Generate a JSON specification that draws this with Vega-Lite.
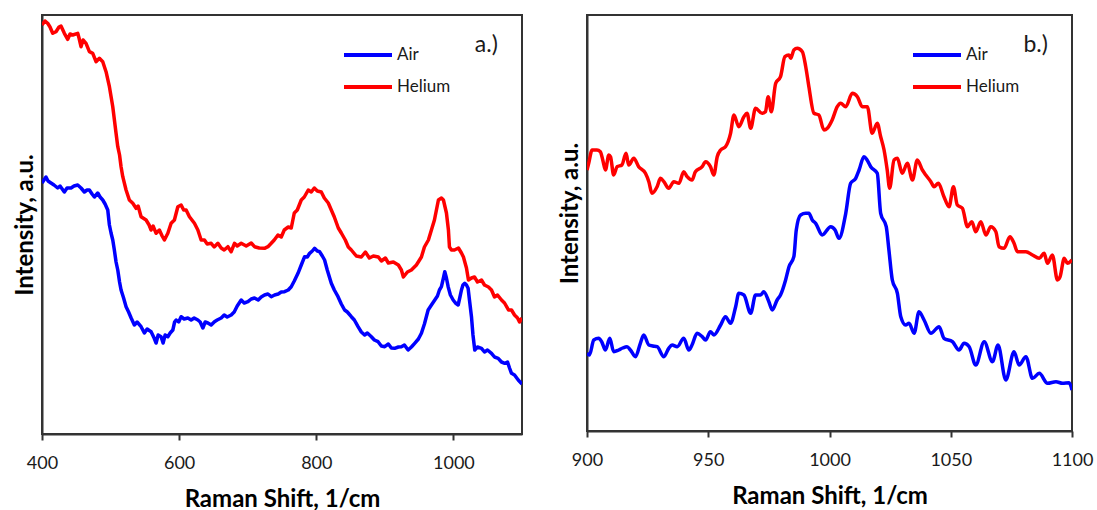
{
  "$schema": "https://vega.github.io/schema/vega-lite/v6.json",
  "background": "white",
  "padding": {"left": 12, "top": 14, "right": 5, "bottom": 0},
  "spacing": 34,
  "config": {
    "font": "Lato",
    "view": {"stroke": "#333333", "strokeWidth": 2},
    "axis": {
      "grid": false,
      "domainColor": "#333333",
      "domainWidth": 2,
      "tickColor": "#333333",
      "tickWidth": 2,
      "tickSize": 6,
      "labelFont": "Lato",
      "labelFontSize": 18,
      "labelColor": "#1a1a1a",
      "labelPadding": 14,
      "labelFlush": false,
      "format": "d",
      "titleFont": "Lato",
      "titleFontSize": 24,
      "titleFontWeight": "bold",
      "titleColor": "#000000"
    },
    "axisY": {"labels": false, "ticks": false, "titlePadding": 5},
    "axisX": {"titlePadding": 15},
    "legend": {
      "orient": "none",
      "title": null,
      "padding": 0,
      "symbolType": "stroke",
      "symbolStrokeWidth": 4,
      "symbolSize": 2304,
      "labelFont": "Lato",
      "labelFontSize": 17,
      "labelColor": "#1a1a1a",
      "labelOffset": 3,
      "rowPadding": 0,
      "clipHeight": 32
    }
  },
  "resolve": {"scale": {"color": "independent"}, "legend": {"color": "independent"}},
  "datasets": {
    "fullRange": [
      {"gas": "Air", "shift": 400, "intensity": 251},
      {"gas": "Air", "shift": 405.8, "intensity": 257},
      {"gas": "Air", "shift": 408.8, "intensity": 253},
      {"gas": "Air", "shift": 413.1, "intensity": 251},
      {"gas": "Air", "shift": 417.5, "intensity": 249},
      {"gas": "Air", "shift": 422.9, "intensity": 246},
      {"gas": "Air", "shift": 426.3, "intensity": 248},
      {"gas": "Air", "shift": 432.6, "intensity": 242},
      {"gas": "Air", "shift": 436.5, "intensity": 246},
      {"gas": "Air", "shift": 442.3, "intensity": 246},
      {"gas": "Air", "shift": 446.7, "intensity": 248},
      {"gas": "Air", "shift": 452.1, "intensity": 249},
      {"gas": "Air", "shift": 456.9, "intensity": 246},
      {"gas": "Air", "shift": 461.8, "intensity": 242},
      {"gas": "Air", "shift": 465.7, "intensity": 244},
      {"gas": "Air", "shift": 469.1, "intensity": 244},
      {"gas": "Air", "shift": 473, "intensity": 240},
      {"gas": "Air", "shift": 476.4, "intensity": 237},
      {"gas": "Air", "shift": 481.3, "intensity": 241},
      {"gas": "Air", "shift": 484.7, "intensity": 237},
      {"gas": "Air", "shift": 488.6, "intensity": 234},
      {"gas": "Air", "shift": 492, "intensity": 230},
      {"gas": "Air", "shift": 495.9, "intensity": 224},
      {"gas": "Air", "shift": 498.3, "intensity": 209},
      {"gas": "Air", "shift": 500.7, "intensity": 201},
      {"gas": "Air", "shift": 503.2, "intensity": 194},
      {"gas": "Air", "shift": 505.5, "intensity": 184},
      {"gas": "Air", "shift": 508, "intensity": 172},
      {"gas": "Air", "shift": 510.5, "intensity": 164},
      {"gas": "Air", "shift": 513.1, "intensity": 152},
      {"gas": "Air", "shift": 515.3, "intensity": 144},
      {"gas": "Air", "shift": 519, "intensity": 136},
      {"gas": "Air", "shift": 522.6, "intensity": 127.3},
      {"gas": "Air", "shift": 526.3, "intensity": 122},
      {"gas": "Air", "shift": 530, "intensity": 116},
      {"gas": "Air", "shift": 534.7, "intensity": 109},
      {"gas": "Air", "shift": 538.7, "intensity": 112},
      {"gas": "Air", "shift": 544.5, "intensity": 107.3},
      {"gas": "Air", "shift": 549.3, "intensity": 101},
      {"gas": "Air", "shift": 553.3, "intensity": 105},
      {"gas": "Air", "shift": 559.1, "intensity": 102.3},
      {"gas": "Air", "shift": 563.5, "intensity": 96},
      {"gas": "Air", "shift": 566.4, "intensity": 91},
      {"gas": "Air", "shift": 569.4, "intensity": 99},
      {"gas": "Air", "shift": 573.7, "intensity": 97.3},
      {"gas": "Air", "shift": 576.6, "intensity": 91},
      {"gas": "Air", "shift": 579.6, "intensity": 99},
      {"gas": "Air", "shift": 583.5, "intensity": 97.3},
      {"gas": "Air", "shift": 586.9, "intensity": 101},
      {"gas": "Air", "shift": 590.8, "intensity": 104},
      {"gas": "Air", "shift": 593.4, "intensity": 112},
      {"gas": "Air", "shift": 595.6, "intensity": 114},
      {"gas": "Air", "shift": 599.3, "intensity": 112},
      {"gas": "Air", "shift": 602.9, "intensity": 117.3},
      {"gas": "Air", "shift": 607.3, "intensity": 115},
      {"gas": "Air", "shift": 612.7, "intensity": 116},
      {"gas": "Air", "shift": 617.5, "intensity": 114},
      {"gas": "Air", "shift": 621.9, "intensity": 116},
      {"gas": "Air", "shift": 627.3, "intensity": 114},
      {"gas": "Air", "shift": 630.7, "intensity": 112},
      {"gas": "Air", "shift": 634.6, "intensity": 106},
      {"gas": "Air", "shift": 638, "intensity": 112},
      {"gas": "Air", "shift": 641.9, "intensity": 111},
      {"gas": "Air", "shift": 646.7, "intensity": 109},
      {"gas": "Air", "shift": 651.5, "intensity": 112.3},
      {"gas": "Air", "shift": 655.5, "intensity": 114},
      {"gas": "Air", "shift": 661.3, "intensity": 116},
      {"gas": "Air", "shift": 665.7, "intensity": 119},
      {"gas": "Air", "shift": 670.1, "intensity": 117},
      {"gas": "Air", "shift": 675.9, "intensity": 119},
      {"gas": "Air", "shift": 680.3, "intensity": 122},
      {"gas": "Air", "shift": 684.7, "intensity": 128},
      {"gas": "Air", "shift": 690.5, "intensity": 134},
      {"gas": "Air", "shift": 694.9, "intensity": 131},
      {"gas": "Air", "shift": 700.3, "intensity": 132.3},
      {"gas": "Air", "shift": 705.1, "intensity": 135},
      {"gas": "Air", "shift": 709.9, "intensity": 136},
      {"gas": "Air", "shift": 715.3, "intensity": 134},
      {"gas": "Air", "shift": 719.7, "intensity": 137},
      {"gas": "Air", "shift": 724.5, "intensity": 139},
      {"gas": "Air", "shift": 729.5, "intensity": 140},
      {"gas": "Air", "shift": 734.3, "intensity": 137.3},
      {"gas": "Air", "shift": 739.2, "intensity": 139},
      {"gas": "Air", "shift": 744.5, "intensity": 140},
      {"gas": "Air", "shift": 748.9, "intensity": 142},
      {"gas": "Air", "shift": 753.7, "intensity": 142.3},
      {"gas": "Air", "shift": 759.1, "intensity": 144},
      {"gas": "Air", "shift": 763.5, "intensity": 147.3},
      {"gas": "Air", "shift": 767.9, "intensity": 153},
      {"gas": "Air", "shift": 773.3, "intensity": 160.7},
      {"gas": "Air", "shift": 778.1, "intensity": 169},
      {"gas": "Air", "shift": 783, "intensity": 177.3},
      {"gas": "Air", "shift": 786.9, "intensity": 177},
      {"gas": "Air", "shift": 790.3, "intensity": 180.7},
      {"gas": "Air", "shift": 794.2, "intensity": 183},
      {"gas": "Air", "shift": 797.5, "intensity": 185.7},
      {"gas": "Air", "shift": 801.5, "intensity": 183},
      {"gas": "Air", "shift": 804.8, "intensity": 182.3},
      {"gas": "Air", "shift": 808.8, "intensity": 178},
      {"gas": "Air", "shift": 812.1, "intensity": 174},
      {"gas": "Air", "shift": 816, "intensity": 164},
      {"gas": "Air", "shift": 821.9, "intensity": 150.7},
      {"gas": "Air", "shift": 826.3, "intensity": 144},
      {"gas": "Air", "shift": 831.7, "intensity": 137.3},
      {"gas": "Air", "shift": 836.5, "intensity": 130},
      {"gas": "Air", "shift": 841.3, "intensity": 124},
      {"gas": "Air", "shift": 845.3, "intensity": 122},
      {"gas": "Air", "shift": 851.1, "intensity": 117.3},
      {"gas": "Air", "shift": 855.5, "intensity": 114},
      {"gas": "Air", "shift": 860.9, "intensity": 107.3},
      {"gas": "Air", "shift": 865.7, "intensity": 102},
      {"gas": "Air", "shift": 870.5, "intensity": 99},
      {"gas": "Air", "shift": 874.5, "intensity": 101},
      {"gas": "Air", "shift": 880.3, "intensity": 97.3},
      {"gas": "Air", "shift": 884.7, "intensity": 94},
      {"gas": "Air", "shift": 890.1, "intensity": 92.3},
      {"gas": "Air", "shift": 894.9, "intensity": 88},
      {"gas": "Air", "shift": 899.8, "intensity": 87.3},
      {"gas": "Air", "shift": 905.1, "intensity": 90},
      {"gas": "Air", "shift": 909.5, "intensity": 86},
      {"gas": "Air", "shift": 914.3, "intensity": 85.7},
      {"gas": "Air", "shift": 919.7, "intensity": 87},
      {"gas": "Air", "shift": 924.1, "intensity": 87.3},
      {"gas": "Air", "shift": 928.5, "intensity": 89},
      {"gas": "Air", "shift": 933.9, "intensity": 84},
      {"gas": "Air", "shift": 938.7, "intensity": 87},
      {"gas": "Air", "shift": 943.5, "intensity": 90.7},
      {"gas": "Air", "shift": 948.9, "intensity": 95},
      {"gas": "Air", "shift": 953.3, "intensity": 100.7},
      {"gas": "Air", "shift": 957.7, "intensity": 110},
      {"gas": "Air", "shift": 963.1, "intensity": 124},
      {"gas": "Air", "shift": 967.9, "intensity": 129},
      {"gas": "Air", "shift": 972.8, "intensity": 134},
      {"gas": "Air", "shift": 976.7, "intensity": 138},
      {"gas": "Air", "shift": 979.6, "intensity": 144},
      {"gas": "Air", "shift": 982.5, "intensity": 147.3},
      {"gas": "Air", "shift": 985.4, "intensity": 156},
      {"gas": "Air", "shift": 987.4, "intensity": 162.3},
      {"gas": "Air", "shift": 989.8, "intensity": 156},
      {"gas": "Air", "shift": 992.3, "intensity": 147.3},
      {"gas": "Air", "shift": 995.6, "intensity": 139},
      {"gas": "Air", "shift": 999.6, "intensity": 134},
      {"gas": "Air", "shift": 1003, "intensity": 131},
      {"gas": "Air", "shift": 1006.9, "intensity": 129},
      {"gas": "Air", "shift": 1009.5, "intensity": 137},
      {"gas": "Air", "shift": 1011.7, "intensity": 144},
      {"gas": "Air", "shift": 1013.9, "intensity": 149},
      {"gas": "Air", "shift": 1016.5, "intensity": 150.7},
      {"gas": "Air", "shift": 1019, "intensity": 149},
      {"gas": "Air", "shift": 1021.4, "intensity": 145.7},
      {"gas": "Air", "shift": 1023.4, "intensity": 134},
      {"gas": "Air", "shift": 1026.3, "intensity": 117.3},
      {"gas": "Air", "shift": 1028.5, "intensity": 99},
      {"gas": "Air", "shift": 1031.1, "intensity": 84},
      {"gas": "Air", "shift": 1035.1, "intensity": 87},
      {"gas": "Air", "shift": 1040.9, "intensity": 85.7},
      {"gas": "Air", "shift": 1045.3, "intensity": 82},
      {"gas": "Air", "shift": 1049.7, "intensity": 84},
      {"gas": "Air", "shift": 1055.5, "intensity": 80.7},
      {"gas": "Air", "shift": 1059.9, "intensity": 77},
      {"gas": "Air", "shift": 1065.3, "intensity": 75.7},
      {"gas": "Air", "shift": 1070.1, "intensity": 72},
      {"gas": "Air", "shift": 1074.9, "intensity": 70.7},
      {"gas": "Air", "shift": 1078.9, "intensity": 72},
      {"gas": "Air", "shift": 1081.8, "intensity": 66},
      {"gas": "Air", "shift": 1084.7, "intensity": 60.7},
      {"gas": "Air", "shift": 1089.1, "intensity": 59},
      {"gas": "Air", "shift": 1094.5, "intensity": 54},
      {"gas": "Air", "shift": 1100, "intensity": 50},
      {"gas": "Helium", "shift": 400, "intensity": 409},
      {"gas": "Helium", "shift": 404.4, "intensity": 413},
      {"gas": "Helium", "shift": 408.3, "intensity": 410.7},
      {"gas": "Helium", "shift": 411.7, "intensity": 407},
      {"gas": "Helium", "shift": 415.6, "intensity": 400.7},
      {"gas": "Helium", "shift": 420.4, "intensity": 402.3},
      {"gas": "Helium", "shift": 424.8, "intensity": 407},
      {"gas": "Helium", "shift": 427.7, "intensity": 408},
      {"gas": "Helium", "shift": 432.6, "intensity": 400.7},
      {"gas": "Helium", "shift": 437.5, "intensity": 394.7},
      {"gas": "Helium", "shift": 440.9, "intensity": 400},
      {"gas": "Helium", "shift": 444.8, "intensity": 399},
      {"gas": "Helium", "shift": 452.1, "intensity": 400.7},
      {"gas": "Helium", "shift": 454, "intensity": 396},
      {"gas": "Helium", "shift": 456.9, "intensity": 387.3},
      {"gas": "Helium", "shift": 459.9, "intensity": 394},
      {"gas": "Helium", "shift": 464.2, "intensity": 390.7},
      {"gas": "Helium", "shift": 469.1, "intensity": 382.3},
      {"gas": "Helium", "shift": 474, "intensity": 380.7},
      {"gas": "Helium", "shift": 478.8, "intensity": 372.3},
      {"gas": "Helium", "shift": 483.7, "intensity": 375.7},
      {"gas": "Helium", "shift": 488.6, "intensity": 372.3},
      {"gas": "Helium", "shift": 493.4, "intensity": 362.3},
      {"gas": "Helium", "shift": 498.3, "intensity": 347.3},
      {"gas": "Helium", "shift": 503.2, "intensity": 327.3},
      {"gas": "Helium", "shift": 508, "intensity": 300.7},
      {"gas": "Helium", "shift": 510.5, "intensity": 287.3},
      {"gas": "Helium", "shift": 513.1, "intensity": 279},
      {"gas": "Helium", "shift": 515.3, "intensity": 267.3},
      {"gas": "Helium", "shift": 517.8, "intensity": 257.3},
      {"gas": "Helium", "shift": 522.6, "intensity": 244},
      {"gas": "Helium", "shift": 527.4, "intensity": 234},
      {"gas": "Helium", "shift": 532.4, "intensity": 230.7},
      {"gas": "Helium", "shift": 537.2, "intensity": 225.7},
      {"gas": "Helium", "shift": 540.2, "intensity": 228},
      {"gas": "Helium", "shift": 544.5, "intensity": 217.3},
      {"gas": "Helium", "shift": 551.8, "intensity": 214},
      {"gas": "Helium", "shift": 556.2, "intensity": 209},
      {"gas": "Helium", "shift": 559.1, "intensity": 204},
      {"gas": "Helium", "shift": 562, "intensity": 208},
      {"gas": "Helium", "shift": 566.4, "intensity": 200.7},
      {"gas": "Helium", "shift": 571.2, "intensity": 204},
      {"gas": "Helium", "shift": 575.2, "intensity": 198},
      {"gas": "Helium", "shift": 578.5, "intensity": 194},
      {"gas": "Helium", "shift": 583.5, "intensity": 200.7},
      {"gas": "Helium", "shift": 588.3, "intensity": 210.7},
      {"gas": "Helium", "shift": 593.1, "intensity": 214},
      {"gas": "Helium", "shift": 598.1, "intensity": 227.3},
      {"gas": "Helium", "shift": 602.9, "intensity": 229},
      {"gas": "Helium", "shift": 606.6, "intensity": 224},
      {"gas": "Helium", "shift": 610.2, "intensity": 224},
      {"gas": "Helium", "shift": 615, "intensity": 217.3},
      {"gas": "Helium", "shift": 622.3, "intensity": 210.7},
      {"gas": "Helium", "shift": 627.3, "intensity": 204},
      {"gas": "Helium", "shift": 632.1, "intensity": 194},
      {"gas": "Helium", "shift": 636.9, "intensity": 194},
      {"gas": "Helium", "shift": 640.9, "intensity": 190},
      {"gas": "Helium", "shift": 646.7, "intensity": 190.7},
      {"gas": "Helium", "shift": 651.1, "intensity": 187},
      {"gas": "Helium", "shift": 656.5, "intensity": 190.7},
      {"gas": "Helium", "shift": 661.3, "intensity": 186},
      {"gas": "Helium", "shift": 665.7, "intensity": 184},
      {"gas": "Helium", "shift": 671.1, "intensity": 187.3},
      {"gas": "Helium", "shift": 675.9, "intensity": 182.3},
      {"gas": "Helium", "shift": 680.7, "intensity": 190.7},
      {"gas": "Helium", "shift": 684.7, "intensity": 188},
      {"gas": "Helium", "shift": 690.5, "intensity": 190.7},
      {"gas": "Helium", "shift": 697.8, "intensity": 188},
      {"gas": "Helium", "shift": 705.1, "intensity": 191},
      {"gas": "Helium", "shift": 709.9, "intensity": 187.3},
      {"gas": "Helium", "shift": 716.8, "intensity": 186},
      {"gas": "Helium", "shift": 724.5, "intensity": 185.7},
      {"gas": "Helium", "shift": 729.5, "intensity": 187.3},
      {"gas": "Helium", "shift": 734.3, "intensity": 190.7},
      {"gas": "Helium", "shift": 738.7, "intensity": 194},
      {"gas": "Helium", "shift": 744.1, "intensity": 199},
      {"gas": "Helium", "shift": 748.9, "intensity": 197},
      {"gas": "Helium", "shift": 753.3, "intensity": 204},
      {"gas": "Helium", "shift": 759.1, "intensity": 207},
      {"gas": "Helium", "shift": 763.5, "intensity": 206},
      {"gas": "Helium", "shift": 767.9, "intensity": 221},
      {"gas": "Helium", "shift": 772.3, "intensity": 224},
      {"gas": "Helium", "shift": 778.1, "intensity": 234},
      {"gas": "Helium", "shift": 782.5, "intensity": 237},
      {"gas": "Helium", "shift": 788.3, "intensity": 244},
      {"gas": "Helium", "shift": 792.7, "intensity": 242},
      {"gas": "Helium", "shift": 797.1, "intensity": 246},
      {"gas": "Helium", "shift": 801.5, "intensity": 243},
      {"gas": "Helium", "shift": 807.3, "intensity": 242},
      {"gas": "Helium", "shift": 811.7, "intensity": 236},
      {"gas": "Helium", "shift": 817.5, "intensity": 231},
      {"gas": "Helium", "shift": 821.9, "intensity": 224},
      {"gas": "Helium", "shift": 826.3, "intensity": 217},
      {"gas": "Helium", "shift": 832.1, "intensity": 206},
      {"gas": "Helium", "shift": 836.5, "intensity": 201},
      {"gas": "Helium", "shift": 842.3, "intensity": 194},
      {"gas": "Helium", "shift": 846.7, "intensity": 187},
      {"gas": "Helium", "shift": 851.1, "intensity": 184},
      {"gas": "Helium", "shift": 858.4, "intensity": 178},
      {"gas": "Helium", "shift": 865.7, "intensity": 177},
      {"gas": "Helium", "shift": 871.6, "intensity": 182},
      {"gas": "Helium", "shift": 877.4, "intensity": 176},
      {"gas": "Helium", "shift": 883.2, "intensity": 178},
      {"gas": "Helium", "shift": 890.5, "intensity": 177},
      {"gas": "Helium", "shift": 894.9, "intensity": 173},
      {"gas": "Helium", "shift": 900.8, "intensity": 176},
      {"gas": "Helium", "shift": 905.1, "intensity": 171},
      {"gas": "Helium", "shift": 912.4, "intensity": 172},
      {"gas": "Helium", "shift": 919.7, "intensity": 169},
      {"gas": "Helium", "shift": 924.1, "intensity": 164},
      {"gas": "Helium", "shift": 927, "intensity": 157},
      {"gas": "Helium", "shift": 932.9, "intensity": 162},
      {"gas": "Helium", "shift": 938.7, "intensity": 164},
      {"gas": "Helium", "shift": 946, "intensity": 169},
      {"gas": "Helium", "shift": 953.3, "intensity": 177},
      {"gas": "Helium", "shift": 957.7, "intensity": 187},
      {"gas": "Helium", "shift": 963.5, "intensity": 194},
      {"gas": "Helium", "shift": 967.9, "intensity": 204},
      {"gas": "Helium", "shift": 972.3, "intensity": 214},
      {"gas": "Helium", "shift": 978.1, "intensity": 234},
      {"gas": "Helium", "shift": 982.5, "intensity": 236},
      {"gas": "Helium", "shift": 985.4, "intensity": 234},
      {"gas": "Helium", "shift": 989.8, "intensity": 221},
      {"gas": "Helium", "shift": 992.7, "intensity": 204},
      {"gas": "Helium", "shift": 994.2, "intensity": 187},
      {"gas": "Helium", "shift": 997.1, "intensity": 184},
      {"gas": "Helium", "shift": 1001.5, "intensity": 184},
      {"gas": "Helium", "shift": 1007.3, "intensity": 186},
      {"gas": "Helium", "shift": 1011.7, "intensity": 181},
      {"gas": "Helium", "shift": 1014.6, "intensity": 177},
      {"gas": "Helium", "shift": 1019, "intensity": 166},
      {"gas": "Helium", "shift": 1021.9, "intensity": 154},
      {"gas": "Helium", "shift": 1026.3, "intensity": 156},
      {"gas": "Helium", "shift": 1030.7, "intensity": 157},
      {"gas": "Helium", "shift": 1035.1, "intensity": 152},
      {"gas": "Helium", "shift": 1040.9, "intensity": 154},
      {"gas": "Helium", "shift": 1045.3, "intensity": 149},
      {"gas": "Helium", "shift": 1051.1, "intensity": 147},
      {"gas": "Helium", "shift": 1055.5, "intensity": 144},
      {"gas": "Helium", "shift": 1059.9, "intensity": 137},
      {"gas": "Helium", "shift": 1064.3, "intensity": 139},
      {"gas": "Helium", "shift": 1070.1, "intensity": 134},
      {"gas": "Helium", "shift": 1074.5, "intensity": 131},
      {"gas": "Helium", "shift": 1080.3, "intensity": 124},
      {"gas": "Helium", "shift": 1084.7, "intensity": 124},
      {"gas": "Helium", "shift": 1089.1, "intensity": 119},
      {"gas": "Helium", "shift": 1093.5, "intensity": 116},
      {"gas": "Helium", "shift": 1096.4, "intensity": 112},
      {"gas": "Helium", "shift": 1100, "intensity": 116}
    ],
    "detailRange": [
      {"gas": "Air", "shift": 900, "intensity": 77.7},
      {"gas": "Air", "shift": 901, "intensity": 76},
      {"gas": "Air", "shift": 902.8, "intensity": 91},
      {"gas": "Air", "shift": 904.8, "intensity": 92.7},
      {"gas": "Air", "shift": 906.1, "intensity": 89},
      {"gas": "Air", "shift": 907.6, "intensity": 81},
      {"gas": "Air", "shift": 909.4, "intensity": 92.7},
      {"gas": "Air", "shift": 911, "intensity": 79.3},
      {"gas": "Air", "shift": 913.1, "intensity": 81},
      {"gas": "Air", "shift": 914.7, "intensity": 83},
      {"gas": "Air", "shift": 916.5, "intensity": 84.3},
      {"gas": "Air", "shift": 917.9, "intensity": 81},
      {"gas": "Air", "shift": 920, "intensity": 74.3},
      {"gas": "Air", "shift": 922, "intensity": 87.7},
      {"gas": "Air", "shift": 923.4, "intensity": 96},
      {"gas": "Air", "shift": 925.5, "intensity": 86},
      {"gas": "Air", "shift": 927.1, "intensity": 85},
      {"gas": "Air", "shift": 928.9, "intensity": 84.3},
      {"gas": "Air", "shift": 931.7, "intensity": 74.3},
      {"gas": "Air", "shift": 933.7, "intensity": 82.7},
      {"gas": "Air", "shift": 935.1, "intensity": 86},
      {"gas": "Air", "shift": 937.2, "intensity": 84.3},
      {"gas": "Air", "shift": 939.9, "intensity": 92.7},
      {"gas": "Air", "shift": 942, "intensity": 81},
      {"gas": "Air", "shift": 943.3, "intensity": 86},
      {"gas": "Air", "shift": 945.4, "intensity": 97.7},
      {"gas": "Air", "shift": 947.5, "intensity": 94.3},
      {"gas": "Air", "shift": 948.9, "intensity": 91},
      {"gas": "Air", "shift": 950.9, "intensity": 99.3},
      {"gas": "Air", "shift": 952.3, "intensity": 96},
      {"gas": "Air", "shift": 955.1, "intensity": 106},
      {"gas": "Air", "shift": 957.1, "intensity": 114.3},
      {"gas": "Air", "shift": 959.2, "intensity": 107.7},
      {"gas": "Air", "shift": 961.3, "intensity": 124.3},
      {"gas": "Air", "shift": 962.6, "intensity": 137.7},
      {"gas": "Air", "shift": 964.7, "intensity": 136},
      {"gas": "Air", "shift": 967.5, "intensity": 117.7},
      {"gas": "Air", "shift": 969.5, "intensity": 136},
      {"gas": "Air", "shift": 971.6, "intensity": 136},
      {"gas": "Air", "shift": 972.9, "intensity": 139.3},
      {"gas": "Air", "shift": 975, "intensity": 129.3},
      {"gas": "Air", "shift": 976.4, "intensity": 121},
      {"gas": "Air", "shift": 978.4, "intensity": 131},
      {"gas": "Air", "shift": 979.8, "intensity": 136},
      {"gas": "Air", "shift": 981.9, "intensity": 151},
      {"gas": "Air", "shift": 983.3, "intensity": 164.3},
      {"gas": "Air", "shift": 985.3, "intensity": 174.3},
      {"gas": "Air", "shift": 986.3, "intensity": 201},
      {"gas": "Air", "shift": 988.1, "intensity": 216},
      {"gas": "Air", "shift": 990.2, "intensity": 217.7},
      {"gas": "Air", "shift": 991.5, "intensity": 217.7},
      {"gas": "Air", "shift": 992.9, "intensity": 211},
      {"gas": "Air", "shift": 994.3, "intensity": 207.7},
      {"gas": "Air", "shift": 997, "intensity": 196},
      {"gas": "Air", "shift": 1000.5, "intensity": 204.3},
      {"gas": "Air", "shift": 1002.3, "intensity": 201},
      {"gas": "Air", "shift": 1003.9, "intensity": 192.7},
      {"gas": "Air", "shift": 1006.7, "intensity": 217.7},
      {"gas": "Air", "shift": 1008.7, "intensity": 247.7},
      {"gas": "Air", "shift": 1010.8, "intensity": 252.7},
      {"gas": "Air", "shift": 1012.2, "intensity": 261},
      {"gas": "Air", "shift": 1014.2, "intensity": 274.3},
      {"gas": "Air", "shift": 1015.5, "intensity": 271},
      {"gas": "Air", "shift": 1017, "intensity": 264.3},
      {"gas": "Air", "shift": 1019.7, "intensity": 257.7},
      {"gas": "Air", "shift": 1021.1, "intensity": 217.7},
      {"gas": "Air", "shift": 1023.4, "intensity": 204.3},
      {"gas": "Air", "shift": 1024.5, "intensity": 181},
      {"gas": "Air", "shift": 1025.9, "intensity": 151},
      {"gas": "Air", "shift": 1028, "intensity": 137.7},
      {"gas": "Air", "shift": 1029.4, "intensity": 114.3},
      {"gas": "Air", "shift": 1031.4, "intensity": 106},
      {"gas": "Air", "shift": 1032.8, "intensity": 107.7},
      {"gas": "Air", "shift": 1034.9, "intensity": 97.7},
      {"gas": "Air", "shift": 1036.9, "intensity": 119.3},
      {"gas": "Air", "shift": 1039, "intensity": 111},
      {"gas": "Air", "shift": 1041.8, "intensity": 97.7},
      {"gas": "Air", "shift": 1045.2, "intensity": 104.3},
      {"gas": "Air", "shift": 1047.2, "intensity": 92.7},
      {"gas": "Air", "shift": 1050.7, "intensity": 89.3},
      {"gas": "Air", "shift": 1053.4, "intensity": 81},
      {"gas": "Air", "shift": 1055.5, "intensity": 87.7},
      {"gas": "Air", "shift": 1057.6, "intensity": 84.3},
      {"gas": "Air", "shift": 1060.3, "intensity": 66},
      {"gas": "Air", "shift": 1063.8, "intensity": 89.3},
      {"gas": "Air", "shift": 1067.2, "intensity": 69.3},
      {"gas": "Air", "shift": 1069.5, "intensity": 86},
      {"gas": "Air", "shift": 1072.7, "intensity": 51},
      {"gas": "Air", "shift": 1076.1, "intensity": 79.3},
      {"gas": "Air", "shift": 1078.2, "intensity": 66},
      {"gas": "Air", "shift": 1081, "intensity": 74.3},
      {"gas": "Air", "shift": 1083.7, "intensity": 52.7},
      {"gas": "Air", "shift": 1086.5, "intensity": 57.7},
      {"gas": "Air", "shift": 1089.9, "intensity": 47.7},
      {"gas": "Air", "shift": 1093.4, "intensity": 49.3},
      {"gas": "Air", "shift": 1096.1, "intensity": 47.7},
      {"gas": "Air", "shift": 1098.8, "intensity": 48.3},
      {"gas": "Air", "shift": 1100, "intensity": 41},
      {"gas": "Helium", "shift": 900, "intensity": 261},
      {"gas": "Helium", "shift": 900.7, "intensity": 267.7},
      {"gas": "Helium", "shift": 902.1, "intensity": 281},
      {"gas": "Helium", "shift": 904.1, "intensity": 281},
      {"gas": "Helium", "shift": 905.5, "intensity": 279.3},
      {"gas": "Helium", "shift": 906.5, "intensity": 271},
      {"gas": "Helium", "shift": 907.6, "intensity": 261},
      {"gas": "Helium", "shift": 909, "intensity": 276},
      {"gas": "Helium", "shift": 909.7, "intensity": 274.3},
      {"gas": "Helium", "shift": 911, "intensity": 256},
      {"gas": "Helium", "shift": 912.4, "intensity": 264.3},
      {"gas": "Helium", "shift": 914.4, "intensity": 266},
      {"gas": "Helium", "shift": 916.1, "intensity": 277.7},
      {"gas": "Helium", "shift": 917.2, "intensity": 266},
      {"gas": "Helium", "shift": 919.3, "intensity": 272.7},
      {"gas": "Helium", "shift": 921.3, "intensity": 264.3},
      {"gas": "Helium", "shift": 924.1, "intensity": 257.7},
      {"gas": "Helium", "shift": 925.5, "intensity": 249.3},
      {"gas": "Helium", "shift": 926.8, "intensity": 237.7},
      {"gas": "Helium", "shift": 928.9, "intensity": 244.3},
      {"gas": "Helium", "shift": 930.3, "intensity": 252.7},
      {"gas": "Helium", "shift": 931.7, "intensity": 249.3},
      {"gas": "Helium", "shift": 933.7, "intensity": 242.7},
      {"gas": "Helium", "shift": 935.8, "intensity": 249.3},
      {"gas": "Helium", "shift": 937.9, "intensity": 247.7},
      {"gas": "Helium", "shift": 939.9, "intensity": 259.3},
      {"gas": "Helium", "shift": 941.3, "intensity": 254.3},
      {"gas": "Helium", "shift": 943.3, "intensity": 251},
      {"gas": "Helium", "shift": 944.7, "intensity": 259.3},
      {"gas": "Helium", "shift": 947.5, "intensity": 264.3},
      {"gas": "Helium", "shift": 948.9, "intensity": 269.3},
      {"gas": "Helium", "shift": 950.9, "intensity": 264.3},
      {"gas": "Helium", "shift": 952.3, "intensity": 256},
      {"gas": "Helium", "shift": 953.7, "intensity": 274.3},
      {"gas": "Helium", "shift": 955.1, "intensity": 281},
      {"gas": "Helium", "shift": 957.1, "intensity": 284.3},
      {"gas": "Helium", "shift": 959.2, "intensity": 297.7},
      {"gas": "Helium", "shift": 960.6, "intensity": 316},
      {"gas": "Helium", "shift": 962.6, "intensity": 304.3},
      {"gas": "Helium", "shift": 964.7, "intensity": 314.3},
      {"gas": "Helium", "shift": 966, "intensity": 317.7},
      {"gas": "Helium", "shift": 967.5, "intensity": 302.7},
      {"gas": "Helium", "shift": 969.5, "intensity": 322.7},
      {"gas": "Helium", "shift": 972.2, "intensity": 317.7},
      {"gas": "Helium", "shift": 973.6, "intensity": 319.3},
      {"gas": "Helium", "shift": 974.7, "intensity": 334.3},
      {"gas": "Helium", "shift": 976, "intensity": 319.3},
      {"gas": "Helium", "shift": 977.8, "intensity": 347.7},
      {"gas": "Helium", "shift": 979.8, "intensity": 354.3},
      {"gas": "Helium", "shift": 981.6, "intensity": 374.3},
      {"gas": "Helium", "shift": 983.3, "intensity": 376},
      {"gas": "Helium", "shift": 984, "intensity": 372.7},
      {"gas": "Helium", "shift": 985.3, "intensity": 381},
      {"gas": "Helium", "shift": 986.7, "intensity": 382.7},
      {"gas": "Helium", "shift": 988.8, "intensity": 379.3},
      {"gas": "Helium", "shift": 990.2, "intensity": 364.3},
      {"gas": "Helium", "shift": 991.5, "intensity": 344.3},
      {"gas": "Helium", "shift": 993.6, "intensity": 317.7},
      {"gas": "Helium", "shift": 995.6, "intensity": 316},
      {"gas": "Helium", "shift": 997.7, "intensity": 301},
      {"gas": "Helium", "shift": 999.1, "intensity": 302.7},
      {"gas": "Helium", "shift": 1001.1, "intensity": 311},
      {"gas": "Helium", "shift": 1003.2, "intensity": 324.3},
      {"gas": "Helium", "shift": 1004.6, "intensity": 327.7},
      {"gas": "Helium", "shift": 1006.7, "intensity": 324.3},
      {"gas": "Helium", "shift": 1009.4, "intensity": 337.7},
      {"gas": "Helium", "shift": 1011.5, "intensity": 334.3},
      {"gas": "Helium", "shift": 1013.5, "intensity": 324.3},
      {"gas": "Helium", "shift": 1015.6, "intensity": 324.3},
      {"gas": "Helium", "shift": 1017.6, "intensity": 297.7},
      {"gas": "Helium", "shift": 1019.7, "intensity": 307.7},
      {"gas": "Helium", "shift": 1021.1, "intensity": 294.3},
      {"gas": "Helium", "shift": 1022.5, "intensity": 281},
      {"gas": "Helium", "shift": 1023.8, "intensity": 261},
      {"gas": "Helium", "shift": 1024.8, "intensity": 242.7},
      {"gas": "Helium", "shift": 1026.6, "intensity": 271},
      {"gas": "Helium", "shift": 1028, "intensity": 272.7},
      {"gas": "Helium", "shift": 1030, "intensity": 257.7},
      {"gas": "Helium", "shift": 1032.1, "intensity": 267.7},
      {"gas": "Helium", "shift": 1034.2, "intensity": 251},
      {"gas": "Helium", "shift": 1036.2, "intensity": 271},
      {"gas": "Helium", "shift": 1038.3, "intensity": 261},
      {"gas": "Helium", "shift": 1039.7, "intensity": 256},
      {"gas": "Helium", "shift": 1041.8, "intensity": 249.3},
      {"gas": "Helium", "shift": 1043.1, "intensity": 244.3},
      {"gas": "Helium", "shift": 1044.9, "intensity": 247.7},
      {"gas": "Helium", "shift": 1047.2, "intensity": 234.3},
      {"gas": "Helium", "shift": 1049.3, "intensity": 224.3},
      {"gas": "Helium", "shift": 1051.1, "intensity": 244.3},
      {"gas": "Helium", "shift": 1052.7, "intensity": 226},
      {"gas": "Helium", "shift": 1054.8, "intensity": 222.7},
      {"gas": "Helium", "shift": 1056.9, "intensity": 204.3},
      {"gas": "Helium", "shift": 1058.7, "intensity": 209.3},
      {"gas": "Helium", "shift": 1060.3, "intensity": 199.3},
      {"gas": "Helium", "shift": 1062.4, "intensity": 209.3},
      {"gas": "Helium", "shift": 1064.5, "intensity": 196},
      {"gas": "Helium", "shift": 1066.5, "intensity": 204.3},
      {"gas": "Helium", "shift": 1068.6, "intensity": 199.3},
      {"gas": "Helium", "shift": 1069.9, "intensity": 184.3},
      {"gas": "Helium", "shift": 1072, "intensity": 182.7},
      {"gas": "Helium", "shift": 1074.4, "intensity": 194.3},
      {"gas": "Helium", "shift": 1076.1, "intensity": 187.7},
      {"gas": "Helium", "shift": 1077.5, "intensity": 179.3},
      {"gas": "Helium", "shift": 1081, "intensity": 179.3},
      {"gas": "Helium", "shift": 1083.7, "intensity": 176},
      {"gas": "Helium", "shift": 1086.5, "intensity": 172.7},
      {"gas": "Helium", "shift": 1088.5, "intensity": 177.7},
      {"gas": "Helium", "shift": 1089.9, "intensity": 167.7},
      {"gas": "Helium", "shift": 1091.9, "intensity": 176},
      {"gas": "Helium", "shift": 1094, "intensity": 151},
      {"gas": "Helium", "shift": 1095.1, "intensity": 154.3},
      {"gas": "Helium", "shift": 1096.8, "intensity": 172.7},
      {"gas": "Helium", "shift": 1098.1, "intensity": 167.7},
      {"gas": "Helium", "shift": 1100, "intensity": 171}
    ]
  },
  "hconcat": [
    {
      "width": 480,
      "height": 419,
      "layer": [
        {
          "data": {"name": "fullRange"},
          "mark": {"type": "line", "strokeWidth": 3.5, "strokeJoin": "round", "clip": true},
          "encoding": {
            "x": {
              "field": "shift",
              "type": "quantitative",
              "scale": {"domain": [400, 1100], "nice": false},
              "axis": {"values": [400, 600, 800, 1000], "title": "Raman Shift, 1/cm"}
            },
            "y": {
              "field": "intensity",
              "type": "quantitative",
              "scale": {"domain": [0, 419], "nice": false},
              "axis": {"title": "Intensity, a.u."}
            },
            "color": {
              "field": "gas",
              "type": "nominal",
              "scale": {"domain": ["Air", "Helium"], "range": ["#0000ff", "#ff0000"]},
              "legend": {"legendX": 300, "legendY": 24}
            }
          }
        },
        {
          "data": {"values": [{}]},
          "mark": {"type": "text", "font": "Lato", "fontSize": 23, "color": "#1a1a1a", "align": "center", "baseline": "middle"},
          "encoding": {
            "x": {"datum": 1048, "type": "quantitative"},
            "y": {"datum": 389, "type": "quantitative"},
            "text": {"value": "a.)"}
          }
        }
      ]
    },
    {
      "width": 485,
      "height": 416,
      "layer": [
        {
          "data": {"name": "detailRange"},
          "mark": {"type": "line", "strokeWidth": 3.5, "strokeJoin": "round", "interpolate": "monotone", "clip": true},
          "encoding": {
            "x": {
              "field": "shift",
              "type": "quantitative",
              "scale": {"domain": [900, 1100], "nice": false},
              "axis": {"values": [900, 950, 1000, 1050, 1100], "title": "Raman Shift, 1/cm"}
            },
            "y": {
              "field": "intensity",
              "type": "quantitative",
              "scale": {"domain": [0, 416], "nice": false},
              "axis": {"title": "Intensity, a.u.", "titleY": 198}
            },
            "color": {
              "field": "gas",
              "type": "nominal",
              "scale": {"domain": ["Air", "Helium"], "range": ["#0000ff", "#ff0000"]},
              "legend": {"legendX": 324, "legendY": 24}
            }
          }
        },
        {
          "data": {"values": [{}]},
          "mark": {"type": "text", "font": "Lato", "fontSize": 23, "color": "#1a1a1a", "align": "center", "baseline": "middle"},
          "encoding": {
            "x": {"datum": 1085, "type": "quantitative"},
            "y": {"datum": 386, "type": "quantitative"},
            "text": {"value": "b.)"}
          }
        }
      ]
    }
  ]
}
